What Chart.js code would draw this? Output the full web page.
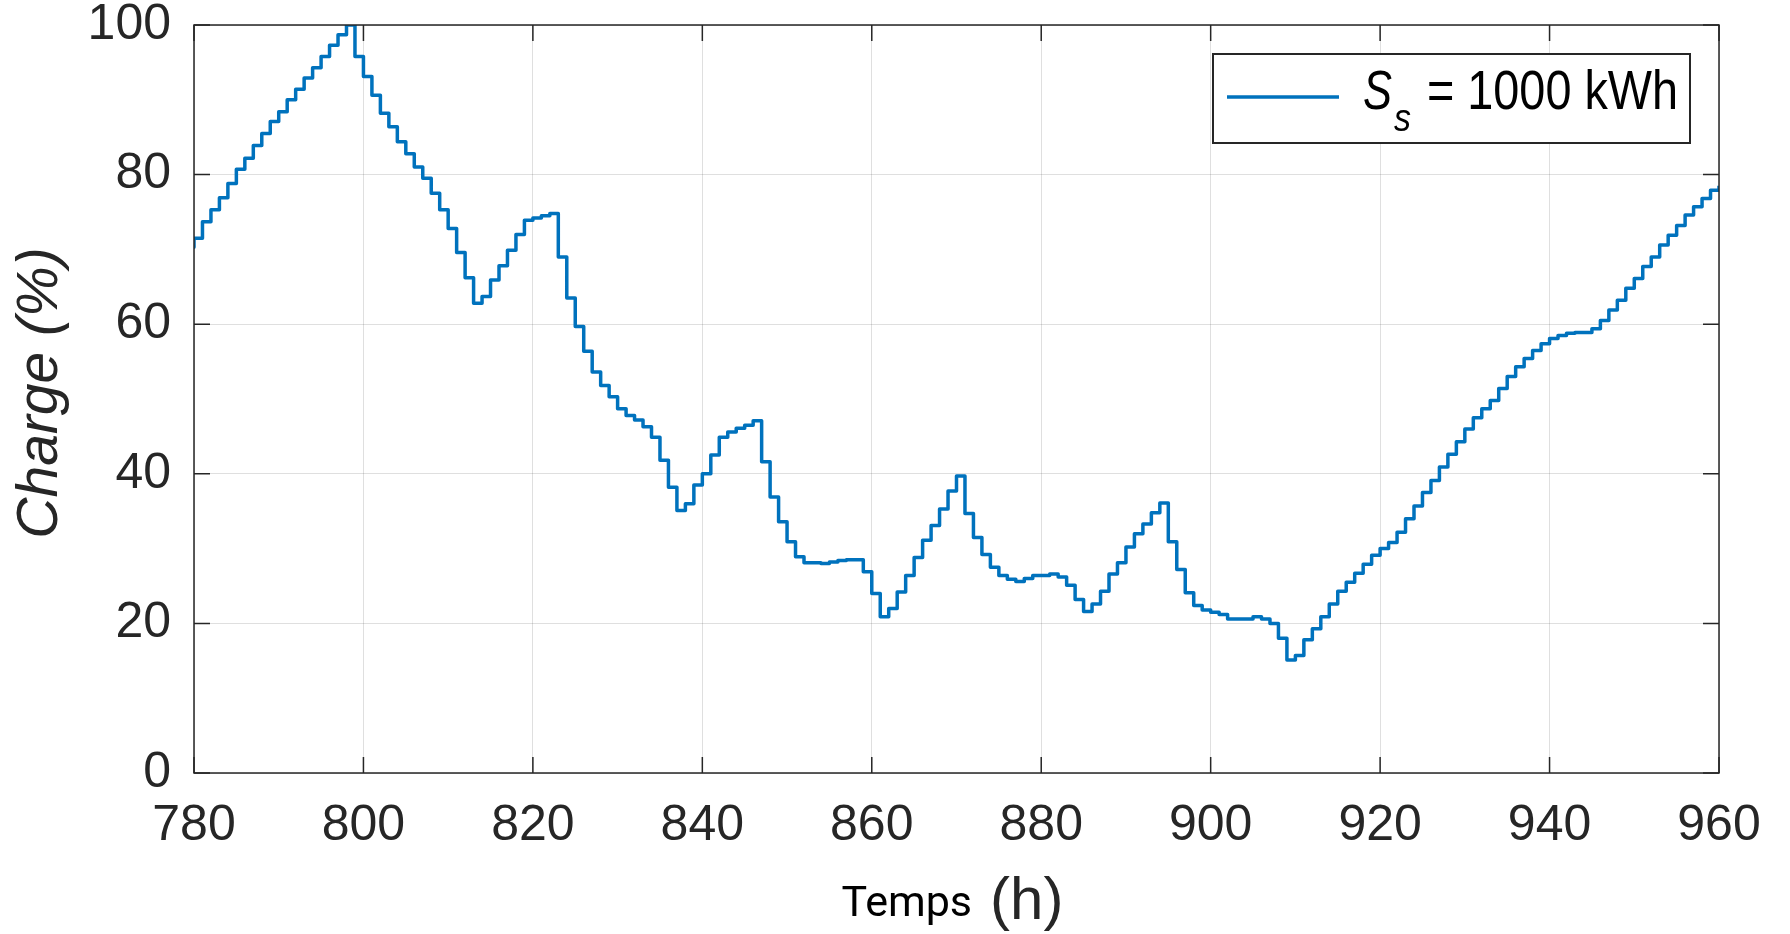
<!DOCTYPE html>
<html>
<head>
<meta charset="utf-8">
<title>Charge</title>
<script src="https://cdn.jsdelivr.net/npm/chart.js@4.4.1/dist/chart.umd.min.js"></script>
<style>
  html, body { margin: 0; padding: 0; background: #fff; }
  #wrap { width: 1790px; height: 934px; position: relative; }
</style>
</head>
<body>
<div id="wrap"><canvas id="chargeChart"></canvas></div>
<script>
// heures (h)
const hours = [
  779,
  780, 781, 782, 783, 784, 785, 786, 787, 788, 789, 790, 791, 792, 793, 794, 795, 796, 797, 798, 799,
  800, 801, 802, 803, 804, 805, 806, 807, 808, 809, 810, 811, 812, 813, 814, 815, 816, 817, 818, 819,
  820, 821, 822, 823, 824, 825, 826, 827, 828, 829, 830, 831, 832, 833, 834, 835, 836, 837, 838, 839,
  840, 841, 842, 843, 844, 845, 846, 847, 848, 849, 850, 851, 852, 853, 854, 855, 856, 857, 858, 859,
  860, 861, 862, 863, 864, 865, 866, 867, 868, 869, 870, 871, 872, 873, 874, 875, 876, 877, 878, 879,
  880, 881, 882, 883, 884, 885, 886, 887, 888, 889, 890, 891, 892, 893, 894, 895, 896, 897, 898, 899,
  900, 901, 902, 903, 904, 905, 906, 907, 908, 909, 910, 911, 912, 913, 914, 915, 916, 917, 918, 919,
  920, 921, 922, 923, 924, 925, 926, 927, 928, 929, 930, 931, 932, 933, 934, 935, 936, 937, 938, 939,
  940, 941, 942, 943, 944, 945, 946, 947, 948, 949, 950, 951, 952, 953, 954, 955, 956, 957, 958, 959,
  960
];

// etat de charge (%), Ss = 1000 kWh
const charge = [
  70.3,
  71.5, 73.7, 75.3, 76.9, 78.8, 80.7, 82.2, 83.9, 85.5, 87.1, 88.4, 90.0, 91.4, 92.9, 94.3, 95.8, 97.3, 98.7, 100, 95.8,
  93.1, 90.6, 88.2, 86.4, 84.4, 82.8, 81.0, 79.5, 77.5, 75.3, 72.8, 69.6, 66.2, 62.8, 63.7, 65.9, 67.8, 69.9, 72.0, 73.9,
  74.2, 74.5, 74.8, 69.0, 63.5, 59.7, 56.4, 53.6, 51.8, 50.3, 48.7, 47.8, 47.2, 46.3, 44.9, 41.8, 38.2, 35.1, 36.0, 38.5,
  40.0, 42.5, 44.9, 45.6, 46.1, 46.5, 47.1, 41.6, 36.9, 33.6, 30.9, 28.9, 28.1, 28.1, 28.0, 28.2, 28.4, 28.5, 28.5, 26.9,
  24.0, 20.9, 22.0, 24.2, 26.4, 28.8, 31.1, 33.1, 35.3, 37.7, 39.7, 34.7, 31.5, 29.2, 27.5, 26.4, 25.9, 25.6, 26.0, 26.4,
  26.4, 26.6, 26.2, 25.1, 23.2, 21.6, 22.6, 24.3, 26.6, 28.1, 30.2, 32.0, 33.3, 34.8, 36.1, 30.9, 27.2, 24.1, 22.4, 21.8,
  21.5, 21.2, 20.6, 20.6, 20.6, 20.9, 20.6, 20.0, 18.0, 15.1, 15.7, 17.8, 19.3, 20.9, 22.6, 24.3, 25.5, 26.7, 27.9, 29.1,
  30.0, 30.8, 32.2, 34.0, 35.7, 37.5, 39.1, 40.9, 42.6, 44.3, 46.0, 47.5, 48.7, 49.8, 51.4, 53.0, 54.3, 55.4, 56.5, 57.4,
  58.1, 58.5, 58.8, 58.9, 58.9, 59.4, 60.5, 61.9, 63.2, 64.8, 66.1, 67.7, 69.0, 70.6, 71.9, 73.2, 74.6, 75.7, 76.8, 77.9,
  78.5
];

const xTicks = [780, 800, 820, 840, 860, 880, 900, 920, 940, 960];
const yTicks = [0, 20, 40, 60, 80, 100];

const axisColor = '#262626';
const lineColor = '#0072BD';
const tickLen = 16;

// cadre + graduations interieures (style MATLAB)
const framePlugin = {
  id: 'frame',
  afterDatasetsDraw(chart) {
    const { ctx, chartArea: a, scales: { x, y } } = chart;
    ctx.save();
    ctx.strokeStyle = axisColor;
    ctx.lineWidth = 1.5;
    ctx.strokeRect(a.left, a.top, a.right - a.left, a.bottom - a.top);
    ctx.beginPath();
    xTicks.forEach(v => {
      const px = x.getPixelForValue(v);
      ctx.moveTo(px, a.bottom);
      ctx.lineTo(px, a.bottom - tickLen);
      ctx.moveTo(px, a.top);
      ctx.lineTo(px, a.top + tickLen);
    });
    yTicks.forEach(v => {
      const py = y.getPixelForValue(v);
      ctx.moveTo(a.left, py);
      ctx.lineTo(a.left + tickLen, py);
      ctx.moveTo(a.right, py);
      ctx.lineTo(a.right - tickLen, py);
    });
    ctx.stroke();
    ctx.restore();
  }
};

// legende avec indice
const legendPlugin = {
  id: 'subLegend',
  afterDatasetsDraw(chart) {
    const { ctx } = chart;
    const ds = chart.data.datasets[0];
    ctx.save();
    ctx.fillStyle = '#fff';
    ctx.fillRect(1213, 54, 477, 89);
    ctx.strokeStyle = axisColor;
    ctx.lineWidth = 2;
    ctx.strokeRect(1213, 54, 477, 89);

    ctx.strokeStyle = ds.borderColor;
    ctx.lineWidth = ds.borderWidth;
    ctx.beginPath();
    ctx.moveTo(1227, 97);
    ctx.lineTo(1339, 97);
    ctx.stroke();

    ctx.fillStyle = '#000';
    ctx.textBaseline = 'alphabetic';
    ctx.textAlign = 'left';
    ctx.font = 'italic 56px "Liberation Sans", Arial, sans-serif';
    ctx.fillText('S', 1363, 109, 29);
    ctx.font = 'italic 38px "Liberation Sans", Arial, sans-serif';
    ctx.fillText('s', 1394, 131, 17);
    ctx.font = '56px "Liberation Sans", Arial, sans-serif';
    ctx.fillText('= 1000 kWh', 1427, 109, 251);
    ctx.restore();
  }
};

// titres des axes
const titlesPlugin = {
  id: 'axisTitles',
  afterDraw(chart) {
    const { ctx, chartArea: a } = chart;
    ctx.save();
    ctx.textBaseline = 'alphabetic';

    // Temps (h)
    ctx.font = '43px Roboto, sans-serif';
    const w1 = ctx.measureText('Temps').width;
    ctx.font = '60px "Liberation Sans", Arial, sans-serif';
    const w2 = ctx.measureText('(h)').width;
    const gap = 18;
    const start = (a.left + a.right) / 2 - (w1 + gap + w2) / 2 - 4;
    ctx.textAlign = 'left';
    ctx.font = '43px Roboto, sans-serif';
    ctx.fillStyle = '#000';
    ctx.fillText('Temps', start, 916);
    ctx.font = '60px "Liberation Sans", Arial, sans-serif';
    ctx.fillStyle = axisColor;
    ctx.fillText('(h)', start + w1 + gap, 919);

    // Charge (%)
    ctx.translate(57, 393);
    ctx.rotate(-Math.PI / 2);
    ctx.textAlign = 'center';
    ctx.font = 'italic 57px "Liberation Sans", Arial, sans-serif';
    ctx.fillStyle = axisColor;
    ctx.fillText('Charge (%)', 0, 0);
    ctx.restore();
  }
};

const ctx = document.getElementById('chargeChart').getContext('2d');
new Chart(ctx, {
  type: 'line',
  data: {
    datasets: [{
      label: 'Ss = 1000 kWh',
      data: hours.map((h, i) => ({ x: h, y: charge[i] })),
      borderColor: lineColor,
      borderWidth: 3.5,
      borderJoinStyle: 'round',
      pointRadius: 0,
      stepped: true,
      fill: false
    }]
  },
  options: {
    responsive: true,
    maintainAspectRatio: false,
    animation: false,
    devicePixelRatio: 1,
    layout: { padding: { top: 25, right: 71, left: 0, bottom: 0 } },
    plugins: {
      legend: { display: false },
      tooltip: { enabled: false }
    },
    scales: {
      x: {
        type: 'linear',
        min: 780,
        max: 960,
        afterBuildTicks: s => { s.ticks = xTicks.map(v => ({ value: v })); },
        afterFit: s => { s.height = 161; s.paddingLeft = 0; s.paddingRight = 0; },
        ticks: {
          color: axisColor,
          padding: 28,
          maxRotation: 0,
          autoSkip: false,
          font: { family: '"Liberation Sans", Arial, sans-serif', size: 50, lineHeight: 1 }
        },
        grid: { color: 'rgba(38,38,38,0.15)', lineWidth: 1, drawTicks: false },
        border: { display: false }
      },
      y: {
        min: 0,
        max: 100,
        afterBuildTicks: s => { s.ticks = yTicks.map(v => ({ value: v })); },
        afterFit: s => { s.width = 194; s.paddingTop = 0; s.paddingBottom = 0; },
        ticks: {
          color: axisColor,
          padding: 23,
          autoSkip: false,
          font: { family: '"Liberation Sans", Arial, sans-serif', size: 50, lineHeight: 1 }
        },
        grid: { color: 'rgba(38,38,38,0.15)', lineWidth: 1, drawTicks: false },
        border: { display: false }
      }
    }
  },
  plugins: [framePlugin, legendPlugin, titlesPlugin]
});
</script>
</body>
</html>
